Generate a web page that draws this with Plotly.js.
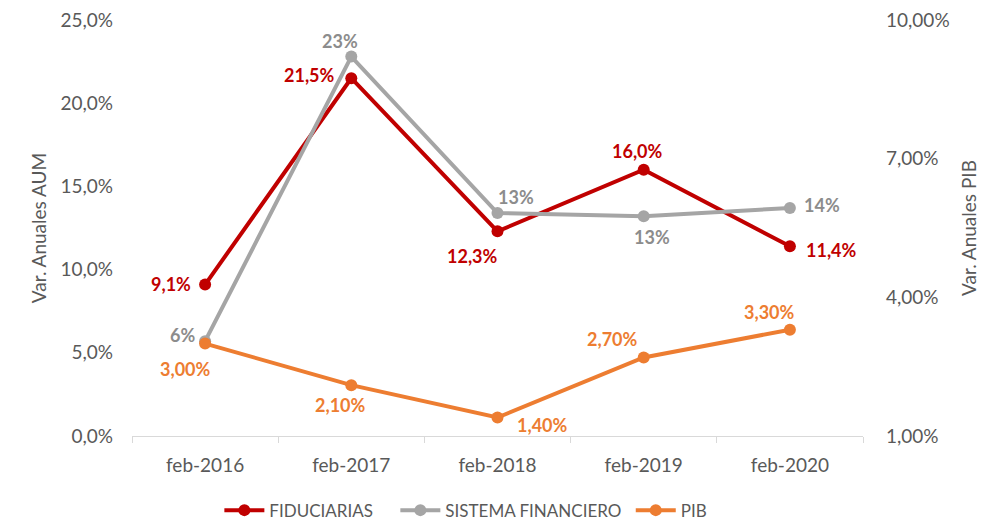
<!DOCTYPE html>
<html>
<head>
<meta charset="utf-8">
<script src="https://cdn.plot.ly/plotly-3.0.1.min.js"></script>
<style>html,body{margin:0;padding:0;background:#fff;}#chart{width:987px;height:521px;}</style>
</head>
<body>
<div id="chart"></div>
<script>
const categories = ["feb-2016", "feb-2017", "feb-2018", "feb-2019", "feb-2020"];
const fiduciarias = [9.1, 21.5, 12.3, 16.0, 11.4];
const sistemaFinanciero = [5.7, 22.8, 13.4, 13.2, 13.7];
const pib = [3.00, 2.10, 1.40, 2.70, 3.30];

const leftTicks = [0, 5, 10, 15, 20, 25];
const rightTicks = [1, 4, 7, 10];

// label offsets (style only)
const fidOffsets = [[-12, 1, 'right'], [-14, 3, 'right'], [-25, -25, 'center'], [-6, 19, 'center'], [14, -4, 'left']];
const sisOffsets = [[-8, 6, 'right'], [-11, 16, 'center'], [18, 16, 'center'], [8, -21, 'center'], [12, 3, 'left']];
const pibOffsets = [[-20, -25, 'center'], [-11, -20, 'center'], [17, -7, 'left'], [-31, 18, 'center'], [-20, 18, 'center']];

const RED = '#C00000', GRAY = '#A5A5A5', ORANGE = '#ED7D31';
const FONT = 'Lato, "Open Sans", sans-serif';
const PAD1 = '\u00a0\u00a0\u00a0\u00a0';
const PAD2 = '\u00a0';

const fmt = (v, d) => v.toFixed(d).replace('.', ',') + '%';

const traces = [
  {x: categories, y: fiduciarias, name: 'FIDUCIARIAS' + PAD1, type: 'scatter', mode: 'lines+markers',
   line: {color: RED, width: 4}, marker: {color: RED, size: 12}, yaxis: 'y'},
  {x: categories, y: sistemaFinanciero, name: 'SISTEMA FINANCIERO' + PAD2, type: 'scatter', mode: 'lines+markers',
   line: {color: GRAY, width: 4}, marker: {color: GRAY, size: 12}, yaxis: 'y'},
  {x: categories, y: pib, name: 'PIB', type: 'scatter', mode: 'lines+markers',
   line: {color: ORANGE, width: 4}, marker: {color: ORANGE, size: 12}, yaxis: 'y2'}
];

const annotations = [];
function addLabels(vals, dec, offs, color, yref) {
  vals.forEach((v, i) => {
    annotations.push({
      x: categories[i], y: v, xref: 'x', yref: yref,
      text: '<b>' + fmt(v, dec) + '</b>', showarrow: false,
      xanchor: offs[i][2], yanchor: 'middle',
      xshift: offs[i][0], yshift: offs[i][1],
      font: {family: FONT, size: 18, color: color}
    });
  });
}
addLabels(fiduciarias, 1, fidOffsets, RED, 'y');
addLabels(sistemaFinanciero, 0, sisOffsets, '#8C8C8C', 'y');
addLabels(pib, 2, pibOffsets, ORANGE, 'y2');

const layout = {
  width: 987, height: 521,
  margin: {l: 132, r: 124, t: 20, b: 85},
  paper_bgcolor: '#fff', plot_bgcolor: '#fff',
  font: {family: FONT, size: 15, color: '#595959'},
  showlegend: true,
  legend: {orientation: 'h', x: 0.472, xref: 'container', xanchor: 'center',
           y: 0.02, yref: 'container', yanchor: 'middle',
           font: {family: FONT, size: 17, color: '#595959'}, itemwidth: 40, traceorder: 'normal'},
  xaxis: {type: 'category', showgrid: false, zeroline: false, automargin: false,
          showline: true, linecolor: '#D9D9D9', linewidth: 1,
          ticks: 'outside', tickson: 'boundaries', ticklen: 6, tickcolor: '#D9D9D9',
          ticklabelstandoff: 12,
          tickfont: {family: FONT, size: 19, color: '#595959'}, range: [-0.5, 4.5]},
  yaxis: {range: [0, 25], tickvals: leftTicks, ticktext: leftTicks.map(v => fmt(v, 1)),
          showgrid: false, zeroline: false, showline: false, ticks: '', automargin: false,
          ticklabelstandoff: 18,
          tickfont: {family: FONT, size: 19, color: '#595959'},
          title: {text: 'Var. Anuales AUM', font: {family: FONT, size: 19, color: '#595959'}, standoff: 8}},
  yaxis2: {range: [1, 10], overlaying: 'y', side: 'right', automargin: false,
          tickvals: rightTicks, ticktext: rightTicks.map(v => fmt(v, 2)),
          showgrid: false, zeroline: false, showline: false, ticks: '',
          ticklabelstandoff: 22,
          tickfont: {family: FONT, size: 19, color: '#595959'},
          title: {text: 'Var. Anuales PIB', font: {family: FONT, size: 19, color: '#595959'}, standoff: 14}},
  annotations: annotations
};

Plotly.newPlot('chart', traces, layout, {displayModeBar: false, staticPlot: true});
</script>
</body>
</html>
